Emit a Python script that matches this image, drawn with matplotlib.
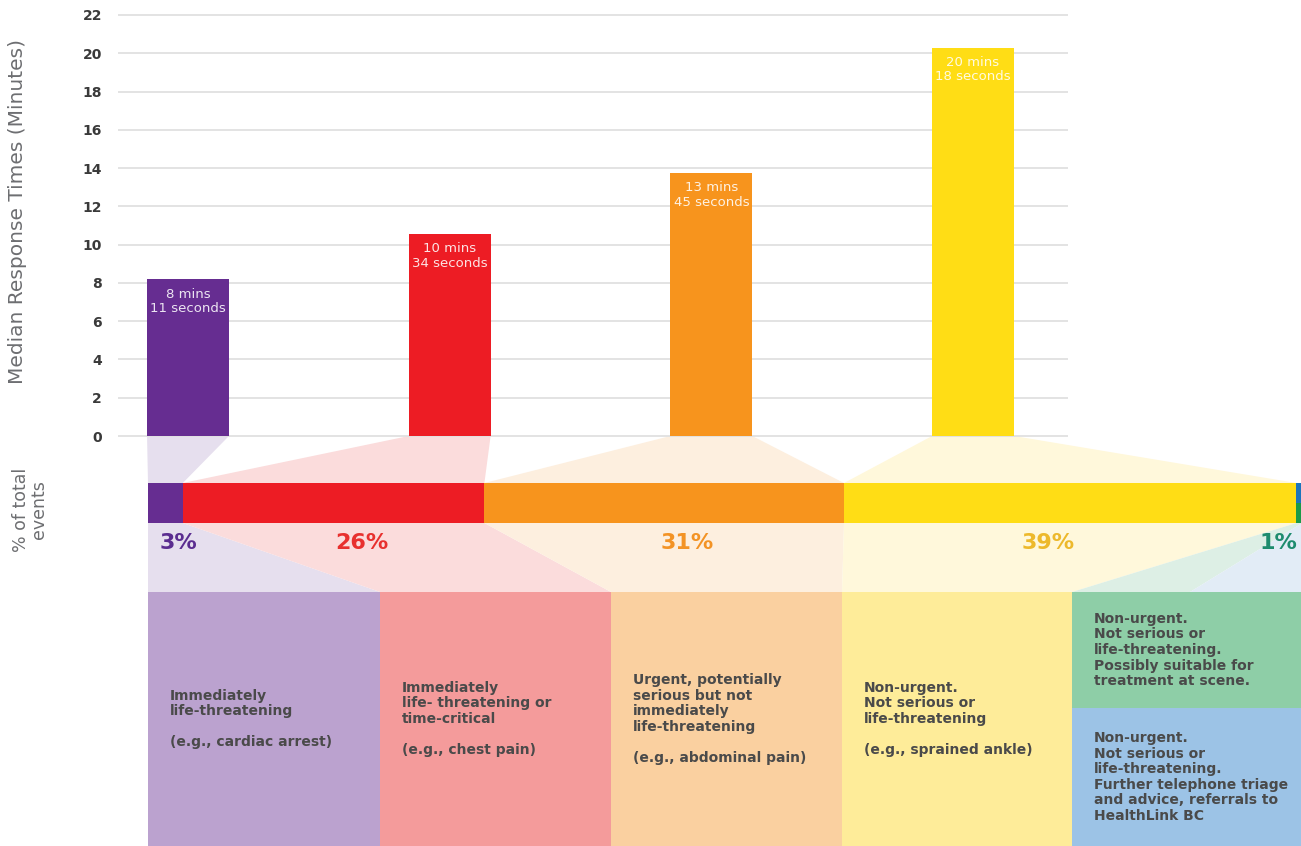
import matplotlib
matplotlib.use('Agg')
import matplotlib.pyplot as plt
from matplotlib.patches import Polygon, Rectangle
import numpy as np

# ---------------- data ----------------
categories = ['Immediately life-threatening', 'Immediately life-threatening or time-critical',
              'Urgent, potentially serious', 'Non-urgent']
response_minutes = [8.183, 10.567, 13.75, 20.3]
response_labels = ['8 mins\n11 seconds', '10 mins\n34 seconds',
                   '13 mins\n45 seconds', '20 mins\n18 seconds']
y_ticks = [0, 2, 4, 6, 8, 10, 12, 14, 16, 18, 20, 22]

share_pct = [3, 26, 31, 39, 1]
share_labels = ['3%', '26%', '31%', '39%', '1%']

box_texts = [
    'Immediately\nlife-threatening\n\n(e.g., cardiac arrest)',
    'Immediately\nlife- threatening or\ntime-critical\n\n(e.g., chest pain)',
    'Urgent, potentially\nserious but not\nimmediately\nlife-threatening\n\n(e.g., abdominal pain)',
    'Non-urgent.\nNot serious or\nlife-threatening\n\n(e.g., sprained ankle)',
    'Non-urgent.\nNot serious or\nlife-threatening.\nPossibly suitable for\ntreatment at scene.',
    'Non-urgent.\nNot serious or\nlife-threatening.\nFurther telephone triage\nand advice, referrals to\nHealthLink BC',
]

# ---------------- styles ----------------
main_colors = ['#662D91', '#ED1C24', '#F7941D', '#FFDD15']
blue_c, green_c = '#1C75BC', '#1A9A48'
tint_colors = ['#E6DFEE', '#FBDCDC', '#FDEFDF', '#FFF8DB']
green_tint, blue_tint = '#DDEFE5', '#E2ECF6'
box_colors = ['#BBA2CF', '#F49B9B', '#FAD0A0', '#FEEC99', '#8ECEA7', '#9CC3E6']
pct_colors = ['#5B2D90', '#E8302E', '#F39325', '#EDB92B', '#1E8C6E']
text_dark = '#4A4A4A'

W, H = 1301, 846
fig = plt.figure(figsize=(W / 100, H / 100), dpi=100)
fig.patch.set_facecolor('white')

bg = fig.add_axes([0, 0, 1, 1])
bg.set_xlim(0, W)
bg.set_ylim(H, 0)
bg.axis('off')

# ---------- top bar chart ----------
px_per_min = 421 / 22
pad = 0.06
ax_bottom = 436 + pad * px_per_min
ax_height = (22 + 2 * pad) * px_per_min
ax = fig.add_axes([118 / W, 1 - ax_bottom / H, 950 / W, ax_height / H])
ax.patch.set_alpha(0)
bar_w = 0.313
bx = np.arange(len(response_minutes))
ax.bar(bx, response_minutes, width=bar_w, color=main_colors, zorder=3)
ax.set_xlim(-0.2675, 3.363)
ax.set_ylim(-pad, 22 + pad)
ax.set_yticks(y_ticks)
ax.set_xticks([])
ax.yaxis.grid(True, color='#E0E0E0', lw=1.3)
ax.set_axisbelow(True)
for s in ax.spines.values():
    s.set_visible(False)
ax.tick_params(axis='y', length=0, pad=11.5, labelsize=10, labelcolor='#3A3A3A')
for lab in ax.get_yticklabels():
    lab.set_fontweight('bold')
for xi, v, lab in zip(bx, response_minutes, response_labels):
    ax.annotate(lab, (xi, v), xytext=(0, -6), textcoords='offset points',
                ha='center', va='top', fontsize=9.5, color='white', alpha=0.88,
                linespacing=1.15, zorder=4)

# ---------- stacked share bar ----------
px_per_pct = 11.6
axm = fig.add_axes([148 / W, 1 - 523 / H, 100 * px_per_pct / W, 40 / H])
axm.set_xlim(0, 100)
axm.set_ylim(-0.5, 0.5)
axm.axis('off')
lefts = np.concatenate([[0], np.cumsum(share_pct)[:-1]])
for i in range(4):
    axm.barh(0, share_pct[i], left=lefts[i], height=1, color=main_colors[i], lw=0)
axm.barh(0.25, share_pct[4], left=lefts[4], height=0.5, color=blue_c, lw=0)
axm.barh(-0.25, share_pct[4], left=lefts[4], height=0.5, color=green_c, lw=0)

label_x = [1.0, 18.4, 46.5, 77.6, 99.1]
label_ha = ['left', 'center', 'center', 'center', 'right']
for i in range(5):
    axm.text(label_x[i], -1.0, share_labels[i], ha=label_ha[i], va='center',
             fontsize=16, fontweight='bold', color=pct_colors[i], clip_on=False)

# ---------- boxes ----------
box_left = [148, 380, 611, 842, 1072, 1072]
box_right = [380, 611, 842, 1072, 1301, 1301]
box_top = [592, 592, 592, 592, 592, 708]
box_bot = [846, 846, 846, 846, 708, 846]
for i in range(6):
    bg.add_patch(Rectangle((box_left[i], box_top[i]), box_right[i] - box_left[i],
                           box_bot[i] - box_top[i], color=box_colors[i], lw=0, zorder=1))
    bg.text(box_left[i] + 22, (box_top[i] + box_bot[i]) / 2, box_texts[i],
            ha='left', va='center', fontsize=10, fontweight='bold', color=text_dark,
            linespacing=1.15, zorder=2)


# ---------- connecting trapezoids ----------
def to_bg(axis, x, y):
    d = axis.transData.transform((x, y))
    return bg.transData.inverted().transform(d)


for i in range(4):
    p1 = to_bg(ax, bx[i] - bar_w / 2, 0)
    p2 = to_bg(ax, bx[i] + bar_w / 2, 0)
    p3 = to_bg(axm, lefts[i] + share_pct[i], 0.5)
    p4 = to_bg(axm, lefts[i], 0.5)
    bg.add_patch(Polygon([p1, p2, p3, p4], closed=True, color=tint_colors[i], lw=0, zorder=0.5))
    q1 = to_bg(axm, lefts[i], -0.5)
    q2 = to_bg(axm, lefts[i] + share_pct[i], -0.5)
    bg.add_patch(Polygon([q1, q2, (box_right[i], 592), (box_left[i], 592)], closed=True,
                         color=tint_colors[i], lw=0, zorder=0.5))

q1 = to_bg(axm, lefts[4], -0.5)
qm = to_bg(axm, lefts[4] + share_pct[4] / 2, -0.5)
q2 = to_bg(axm, lefts[4] + share_pct[4], -0.5)
bg.add_patch(Polygon([q1, qm, (1190, 592), (box_left[4], 592)], closed=True,
                     color=green_tint, lw=0, zorder=0.5))
bg.add_patch(Polygon([qm, q2, (box_right[4], 592), (1190, 592)], closed=True,
                     color=blue_tint, lw=0, zorder=0.5))

# ---------- axis titles ----------
bg.text(18, 212, 'Median Response Times (Minutes)', rotation=90, ha='center', va='center',
        fontsize=14.5, color='#6D6E71')
bg.text(30, 510, '% of total\nevents', rotation=90, ha='center', va='center',
        fontsize=12.5, color='#6D6E71', linespacing=1.05)

fig.savefig('out.png', dpi=100)
